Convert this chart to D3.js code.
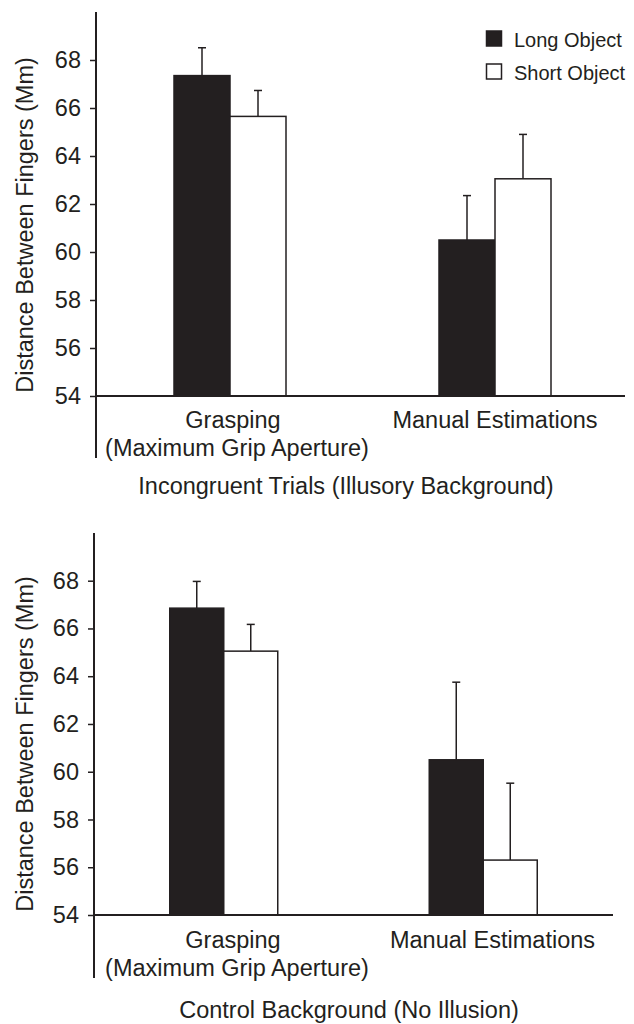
<!DOCTYPE html>
<html>
<head>
<meta charset="utf-8">
<script src="https://cdn.jsdelivr.net/npm/d3@7"></script>
<style>
  html, body { margin: 0; padding: 0; background: #fff; }
  svg { display: block; }
  text { font-family: "Liberation Sans", Arial, Helvetica, sans-serif; fill: #231f20; }
</style>
</head>
<body>
<svg id="chart" width="634" height="1024"></svg>
<script>
// ---- data ----
const categories = ["Grasping", "Manual Estimations"];
const categorySubLabels = ["(Maximum Grip Aperture)", ""];
const seriesNames = ["Long Object", "Short Object"];
const yTicks = [54, 56, 58, 60, 62, 64, 66, 68];
const yLabel = "Distance Between Fingers (Mm)";

const incongruentTitle = "Incongruent Trials (Illusory Background)";
const incongruentLong = [67.35, 60.5];
const incongruentShort = [65.65, 63.05];
const incongruentLongErr = [1.16, 1.85];
const incongruentShortErr = [1.08, 1.85];

const controlTitle = "Control Background (No Illusion)";
const controlLong = [66.85, 60.5];
const controlShort = [65.05, 56.3];
const controlLongErr = [1.12, 3.25];
const controlShortErr = [1.12, 3.22];

const ink = "#231f20";
const svg = d3.select("#chart");

function drawPanel(cfg) {
  const g = svg.append("g");
  const y = d3.scaleLinear().domain([54, 68]).range([cfg.y54, cfg.y68]);
  const x = d3.scaleBand().domain(categories).range(cfg.xRange).paddingInner(0).paddingOuter(0);
  const xs = d3.scaleBand().domain(seriesNames).range([0, cfg.barW * 2]);

  // y axis ticks and labels
  const axis = d3.axisLeft(y).tickValues(yTicks).tickSize(6).tickPadding(9).tickFormat(d3.format("d"));
  const ag = g.append("g").attr("transform", `translate(${cfg.axisX},0)`).call(axis);
  ag.attr("font-family", null);
  ag.select(".domain").remove();
  ag.selectAll(".tick line").attr("stroke", ink).attr("stroke-width", 1.5);
  ag.selectAll(".tick text").attr("font-size", 23.5).attr("fill", ink);

  // vertical axis line
  g.append("line").attr("x1", cfg.axisX).attr("x2", cfg.axisX)
    .attr("y1", cfg.axisTop).attr("y2", cfg.axisBottom)
    .attr("stroke", ink).attr("stroke-width", 2);

  const data = [];
  categories.forEach((c, i) => {
    data.push({ c, s: seriesNames[0], v: cfg.long[i], e: cfg.longErr[i] });
    data.push({ c, s: seriesNames[1], v: cfg.short[i], e: cfg.shortErr[i] });
  });
  const cx = c => x(c) + x.bandwidth() / 2 - cfg.barW;

  // error bars (upper only)
  const eb = g.append("g");
  data.forEach(d => {
    const mx = cx(d.c) + xs(d.s) + xs.bandwidth() / 2;
    eb.append("line").attr("x1", mx).attr("x2", mx).attr("y1", y(d.v)).attr("y2", y(d.v + d.e))
      .attr("stroke", ink).attr("stroke-width", 1.5);
    eb.append("line").attr("x1", mx - 4).attr("x2", mx + 4).attr("y1", y(d.v + d.e)).attr("y2", y(d.v + d.e))
      .attr("stroke", ink).attr("stroke-width", 1.5);
  });

  // bars
  g.selectAll("rect.bar").data(data).join("rect")
    .attr("class", "bar")
    .attr("x", d => cx(d.c) + xs(d.s))
    .attr("width", xs.bandwidth())
    .attr("y", d => y(d.v))
    .attr("height", d => y(54) - y(d.v))
    .attr("fill", d => d.s === seriesNames[0] ? ink : "#fff")
    .attr("stroke", ink)
    .attr("stroke-width", 1.5);

  // baseline
  g.append("line").attr("x1", cfg.axisX).attr("x2", cfg.baseEnd)
    .attr("y1", y(54)).attr("y2", y(54))
    .attr("stroke", ink).attr("stroke-width", 2);

  // category labels
  categories.forEach((c, i) => {
    g.append("text").attr("x", cfg.labelX[i]).attr("y", cfg.labelY)
      .attr("text-anchor", "middle").attr("font-size", 23.5).text(c);
    if (categorySubLabels[i]) {
      g.append("text").attr("x", cfg.subLabelX[i]).attr("y", cfg.labelY + 28)
        .attr("text-anchor", "middle").attr("font-size", 23.5).text(categorySubLabels[i]);
    }
  });

  // y label
  g.append("text")
    .attr("transform", `translate(${cfg.yLabelX},${cfg.yLabelY}) rotate(-90)`)
    .attr("text-anchor", "middle").attr("dominant-baseline", "central")
    .attr("font-size", 23.5).text(yLabel);

  // panel title
  g.append("text").attr("x", cfg.titleX).attr("y", cfg.titleY)
    .attr("text-anchor", "middle").attr("font-size", 23.5).text(cfg.title);

  // legend
  if (cfg.legend) {
    seriesNames.forEach((s, i) => {
      const ly = 31 + i * 33;
      g.append("rect").attr("x", 486.5).attr("y", ly).attr("width", 15).attr("height", 15)
        .attr("fill", i === 0 ? ink : "#fff").attr("stroke", ink).attr("stroke-width", 1.5);
      g.append("text").attr("x", 514).attr("y", ly + 15.5).attr("font-size", 20).text(s);
    });
  }
}

drawPanel({
  axisX: 96, axisTop: 12, axisBottom: 458, y54: 396, y68: 60,
  xRange: [97.5, 627.5], barW: 56, baseEnd: 625,
  long: incongruentLong, short: incongruentShort, longErr: incongruentLongErr, shortErr: incongruentShortErr,
  labelX: [233, 495], subLabelX: [237, 0], labelY: 428,
  yLabelX: 25, yLabelY: 225,
  title: incongruentTitle, titleX: 346, titleY: 494,
  legend: true
});

drawPanel({
  axisX: 94, axisTop: 533, axisBottom: 978, y54: 915, y68: 580.7,
  xRange: [94, 613], barW: 54, baseEnd: 613,
  long: controlLong, short: controlShort, longErr: controlLongErr, shortErr: controlShortErr,
  labelX: [233, 492.5], subLabelX: [237, 0], labelY: 948,
  yLabelX: 25, yLabelY: 744,
  title: controlTitle, titleX: 349, titleY: 1018,
  legend: false
});
</script>
</body>
</html>
